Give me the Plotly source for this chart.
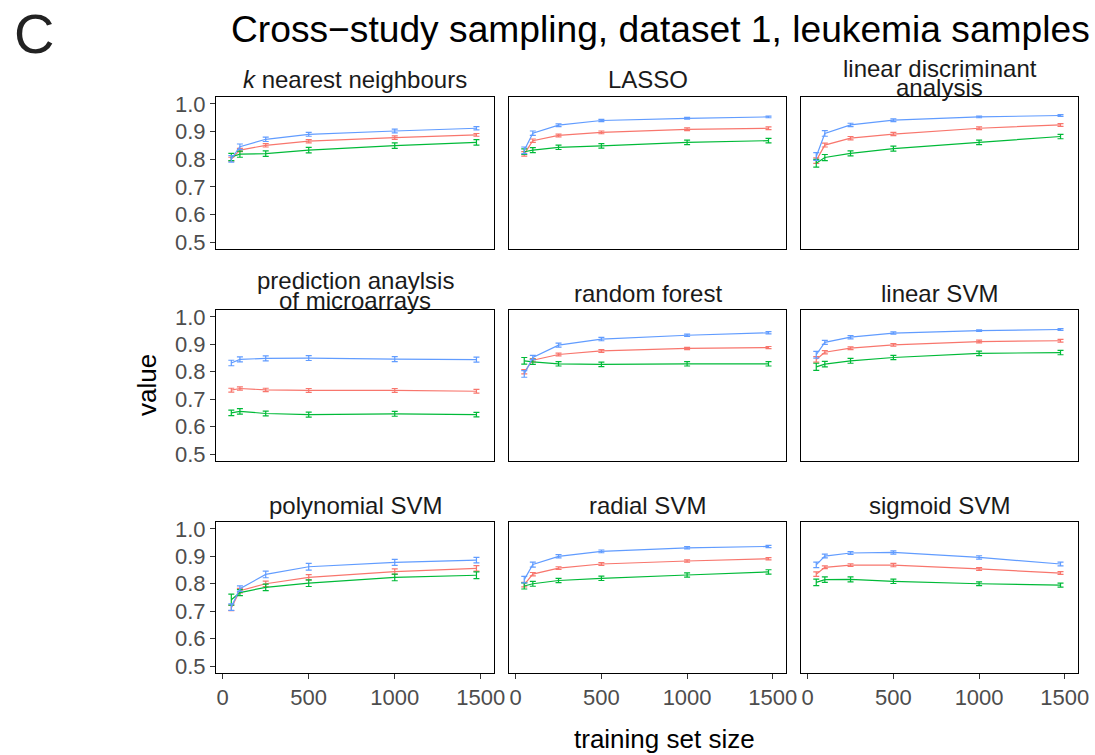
import plotly.graph_objects as go

W, H = 1095, 755

SIZES = [50, 100, 250, 500, 1000, 1475]

PANEL_TITLES = [
    ["<i>k</i> nearest neighbours"],
    ["LASSO"],
    ["linear discriminant", "analysis"],
    ["prediction anaylsis", "of microarrays"],
    ["random forest"],
    ["linear SVM"],
    ["polynomial SVM"],
    ["radial SVM"],
    ["sigmoid SVM"],
]

RED_MEAN = [
    [0.800, 0.833, 0.850, 0.865, 0.878, 0.888],
    [0.819, 0.867, 0.886, 0.897, 0.908, 0.912],
    [0.795, 0.851, 0.876, 0.891, 0.912, 0.924],
    [0.733, 0.739, 0.734, 0.732, 0.732, 0.729],
    [0.800, 0.842, 0.863, 0.876, 0.885, 0.888],
    [0.845, 0.871, 0.886, 0.898, 0.910, 0.913],
    [0.712, 0.775, 0.800, 0.823, 0.844, 0.856],
    [0.797, 0.835, 0.857, 0.872, 0.883, 0.891],
    [0.835, 0.860, 0.868, 0.868, 0.854, 0.839],
]
GREEN_MEAN = [
    [0.808, 0.818, 0.820, 0.833, 0.849, 0.861],
    [0.827, 0.833, 0.843, 0.848, 0.861, 0.867],
    [0.785, 0.806, 0.821, 0.838, 0.861, 0.882],
    [0.650, 0.656, 0.648, 0.644, 0.647, 0.644],
    [0.840, 0.836, 0.829, 0.827, 0.829, 0.829],
    [0.818, 0.828, 0.840, 0.852, 0.867, 0.870],
    [0.742, 0.768, 0.787, 0.802, 0.823, 0.831],
    [0.792, 0.800, 0.812, 0.820, 0.832, 0.843],
    [0.805, 0.815, 0.816, 0.809, 0.800, 0.795],
]
BLUE_MEAN = [
    [0.801, 0.845, 0.872, 0.890, 0.902, 0.912],
    [0.832, 0.894, 0.923, 0.940, 0.948, 0.953],
    [0.810, 0.893, 0.924, 0.941, 0.953, 0.958],
    [0.832, 0.845, 0.849, 0.850, 0.846, 0.844],
    [0.792, 0.852, 0.897, 0.919, 0.933, 0.942],
    [0.862, 0.907, 0.926, 0.941, 0.950, 0.954],
    [0.715, 0.782, 0.834, 0.862, 0.878, 0.886],
    [0.815, 0.870, 0.900, 0.918, 0.931, 0.936],
    [0.869, 0.901, 0.912, 0.914, 0.896, 0.872],
]

RED_ERR = [
    [0.007, 0.006, 0.006, 0.006, 0.006, 0.005],
    [0.008, 0.006, 0.005, 0.005, 0.005, 0.005],
    [0.010, 0.007, 0.006, 0.006, 0.005, 0.005],
    [0.007, 0.006, 0.006, 0.007, 0.007, 0.007],
    [0.008, 0.006, 0.005, 0.005, 0.004, 0.004],
    [0.010, 0.006, 0.005, 0.005, 0.005, 0.005],
    [0.010, 0.008, 0.010, 0.010, 0.010, 0.010],
    [0.008, 0.006, 0.005, 0.005, 0.004, 0.004],
    [0.008, 0.005, 0.005, 0.006, 0.005, 0.005],
]
GREEN_ERR = [
    [0.013, 0.011, 0.010, 0.010, 0.010, 0.010],
    [0.010, 0.009, 0.008, 0.008, 0.008, 0.008],
    [0.014, 0.011, 0.009, 0.009, 0.008, 0.008],
    [0.010, 0.010, 0.009, 0.009, 0.009, 0.008],
    [0.012, 0.009, 0.008, 0.008, 0.008, 0.008],
    [0.013, 0.010, 0.009, 0.008, 0.008, 0.008],
    [0.020, 0.011, 0.012, 0.012, 0.012, 0.012],
    [0.011, 0.009, 0.008, 0.008, 0.008, 0.008],
    [0.012, 0.010, 0.009, 0.008, 0.007, 0.007],
]
BLUE_ERR = [
    [0.012, 0.010, 0.008, 0.007, 0.007, 0.006],
    [0.012, 0.008, 0.005, 0.004, 0.003, 0.003],
    [0.014, 0.010, 0.006, 0.005, 0.003, 0.003],
    [0.010, 0.009, 0.009, 0.009, 0.009, 0.009],
    [0.012, 0.008, 0.007, 0.006, 0.004, 0.004],
    [0.012, 0.007, 0.006, 0.004, 0.003, 0.003],
    [0.012, 0.010, 0.012, 0.012, 0.011, 0.010],
    [0.012, 0.009, 0.006, 0.005, 0.004, 0.004],
    [0.010, 0.007, 0.005, 0.006, 0.006, 0.007],
]

SERIES = [
    ("#F8766D", RED_MEAN, RED_ERR),
    ("#00BA38", GREEN_MEAN, GREEN_ERR),
    ("#619CFF", BLUE_MEAN, BLUE_ERR),
]

# panel edges in pixels (left, right) / (top, bottom)
COLS_PX = [(216, 494), (509, 786), (801, 1078)]
ROWS_PX = [(97, 249), (310, 461), (522, 673)]

FONT = "Liberation Sans, Arial, sans-serif"
TICK_COLOR = "#4D4D4D"
TEXT_COLOR = "#1A1A1A"


def px_x(px):
    return px / W


def px_y(px):
    return 1 - px / H


def label(text, x, y, size, color=TEXT_COLOR, xanchor="center", angle=0):
    return dict(
        text=text,
        x=px_x(x),
        y=px_y(y),
        xref="paper",
        yref="paper",
        xanchor=xanchor,
        yanchor="middle",
        textangle=angle,
        showarrow=False,
        font=dict(size=size, color=color, family=FONT),
    )


fig = go.Figure()
layout = {}
annotations = []

for i in range(9):
    r, c = divmod(i, 3)
    n = "" if i == 0 else str(i + 1)
    for color, means, errs in SERIES:
        fig.add_trace(
            go.Scatter(
                x=SIZES,
                y=means[i],
                mode="lines",
                line=dict(color=color, width=1.2),
                error_y=dict(type="data", array=errs[i], color=color, thickness=1.2, width=3),
                xaxis="x" + n,
                yaxis="y" + n,
                showlegend=False,
                hoverinfo="x+y",
            )
        )

    bottom = r == 2
    left = c == 0
    common = dict(
        automargin=False,
        showgrid=False,
        zeroline=False,
        showline=True,
        mirror=True,
        linecolor="black",
        linewidth=1,
        ticklen=5,
        tickwidth=1.2,
        tickcolor="#333333",
        tickfont=dict(size=22, color=TICK_COLOR, family=FONT),
    )
    layout["xaxis" + n] = dict(
        domain=[px_x(COLS_PX[c][0]), px_x(COLS_PX[c][1])],
        anchor="y" + n,
        range=[-39, 1577],
        ticks="outside" if bottom else "",
        tickvals=[0, 500, 1000, 1500],
        showticklabels=bottom,
        **common,
    )
    layout["yaxis" + n] = dict(
        domain=[px_y(ROWS_PX[r][1]), px_y(ROWS_PX[r][0])],
        anchor="x" + n,
        range=[0.475, 1.025],
        ticks="outside" if left else "",
        tickvals=[0.5, 0.6, 0.7, 0.8, 0.9, 1.0],
        tickformat=".1f",
        showticklabels=left,
        **common,
    )

    # strip labels above each panel
    cx = (COLS_PX[c][0] + COLS_PX[c][1]) / 2
    lines = PANEL_TITLES[i]
    if len(lines) == 1:
        ys = [ROWS_PX[r][0] - 17]
    else:
        ys = [ROWS_PX[r][0] - 29, ROWS_PX[r][0] - 10]
    for text, ypx in zip(lines, ys):
        annotations.append(label(text, cx, ypx, 24))

annotations += [
    label("C", 12, 34, 56, color="#222222", xanchor="left"),
    label("Cross\u2212study sampling, dataset 1, leukemia samples", 229, 29, 37.2,
          color="black", xanchor="left"),
    label("training set size", 664, 739, 26, color="black"),
    label("value", 147, 385, 26, color="black", angle=-90),
]

fig.update_layout(
    width=W,
    height=H,
    margin=dict(l=0, r=0, t=0, b=0, pad=0),
    paper_bgcolor="white",
    plot_bgcolor="white",
    annotations=annotations,
    **layout,
)

# drop the browser's default 8px body margin so the figure fills the window exactly
fig.write_html(
    "out.html",
    config={"displayModeBar": False},
    post_script="document.body.style.margin = '0px';",
)
